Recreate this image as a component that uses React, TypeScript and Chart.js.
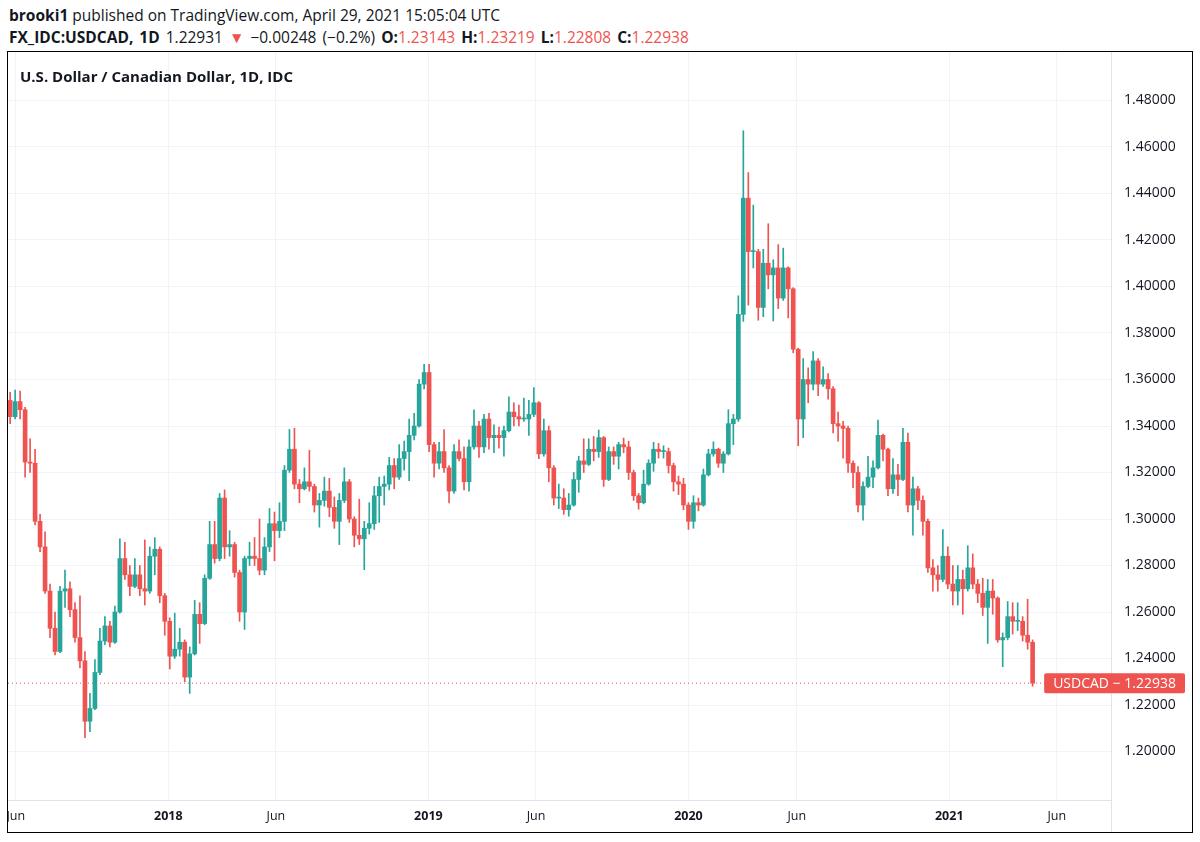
import React, { useEffect, useRef } from 'react';
import { Chart, registerables } from 'chart.js';

Chart.register(...registerables);

// ---- data (weekly OHLC) ----
const FIRST_WEEK = '2017-05-22';
const OPEN = [
  1.3510, 1.3440, 1.3505, 1.3470, 1.3245, 1.3240, 1.2990, 1.2880, 1.2690, 1.2530,
  1.2430, 1.2690, 1.2700, 1.2610, 1.2490, 1.2390, 1.2130, 1.2185, 1.2340, 1.2475,
  1.2540, 1.2470, 1.2600, 1.2830, 1.2760, 1.2710, 1.2760, 1.2700, 1.2690, 1.2840,
  1.2870, 1.2670, 1.2560, 1.2410, 1.2440, 1.2470, 1.2320, 1.2420, 1.2590, 1.2550,
  1.2745, 1.2890, 1.2830, 1.3090, 1.2880, 1.2890, 1.2770, 1.2600, 1.2830, 1.2840,
  1.2830, 1.2780, 1.2880, 1.2980, 1.2950, 1.2990, 1.3210, 1.3300, 1.3150, 1.3130,
  1.3160, 1.3140, 1.3060, 1.3080, 1.3120, 1.3050, 1.2990, 1.3080, 1.3160, 1.3000,
  1.2930, 1.2915, 1.2960, 1.2980, 1.3100, 1.3140, 1.3150, 1.3230, 1.3180, 1.3260,
  1.3290, 1.3360, 1.3400, 1.3580, 1.3630, 1.3320, 1.3240, 1.3290, 1.3220, 1.3120,
  1.3290, 1.3260, 1.3160, 1.3310, 1.3400, 1.3310, 1.3430, 1.3350, 1.3360, 1.3350,
  1.3380, 1.3460, 1.3440, 1.3430, 1.3430, 1.3450, 1.3500, 1.3280, 1.3380, 1.3220,
  1.3090, 1.3090, 1.3040, 1.3060, 1.3170, 1.3250, 1.3235, 1.3300, 1.3290, 1.3350,
  1.3170, 1.3290, 1.3270, 1.3320, 1.3310, 1.3200, 1.3100, 1.3070, 1.3150, 1.3240,
  1.3300, 1.3290, 1.3290, 1.3230, 1.3160, 1.3150, 1.3060, 1.2990, 1.3070, 1.3060,
  1.3190, 1.3280, 1.3300, 1.3240, 1.3280, 1.3410, 1.3430, 1.3880, 1.4380, 1.4150,
  1.4150, 1.3910, 1.4100, 1.4050, 1.4080, 1.3950, 1.4080, 1.3990, 1.3730, 1.3430,
  1.3600, 1.3580, 1.3680, 1.3580, 1.3600, 1.3560, 1.3410, 1.3400, 1.3390, 1.3240,
  1.3200, 1.3060, 1.3140, 1.3180, 1.3220, 1.3360, 1.3300, 1.3130, 1.3190, 1.3170,
  1.3330, 1.3060, 1.3130, 1.3080, 1.2990, 1.2790, 1.2760, 1.2740, 1.2840, 1.2720,
  1.2690, 1.2740, 1.2700, 1.2790, 1.2720, 1.2680, 1.2620, 1.2690, 1.2660, 1.2480,
  1.2490, 1.2580, 1.2560, 1.2560, 1.2500, 1.2470,
];
const HIGH = [
  1.3545, 1.3555, 1.3550, 1.3480, 1.3345, 1.3300, 1.3020, 1.2945, 1.2720, 1.2600,
  1.2710, 1.2780, 1.2730, 1.2640, 1.2670, 1.2430, 1.2250, 1.2395, 1.2530, 1.2580,
  1.2560, 1.2625, 1.2915, 1.2900, 1.2800, 1.2830, 1.2800, 1.2910, 1.2880, 1.2920,
  1.2880, 1.2680, 1.2575, 1.2595, 1.2530, 1.2480, 1.2450, 1.2650, 1.2640, 1.2760,
  1.2990, 1.2990, 1.3110, 1.3125, 1.2950, 1.2900, 1.2780, 1.2840, 1.2900, 1.2920,
  1.3000, 1.2920, 1.3045, 1.3030, 1.3070, 1.3230, 1.3385, 1.3390, 1.3170, 1.3220,
  1.3295, 1.3150, 1.3110, 1.3180, 1.3175, 1.3095, 1.3110, 1.3220, 1.3170, 1.3010,
  1.3085, 1.2990, 1.3070, 1.3140, 1.3180, 1.3185, 1.3265, 1.3260, 1.3320, 1.3335,
  1.3430, 1.3455, 1.3600, 1.3665, 1.3665, 1.3330, 1.3330, 1.3385, 1.3230, 1.3320,
  1.3340, 1.3310, 1.3340, 1.3470, 1.3420, 1.3450, 1.3455, 1.3405, 1.3395, 1.3400,
  1.3525, 1.3500, 1.3490, 1.3520, 1.3510, 1.3565, 1.3505, 1.3430, 1.3400, 1.3230,
  1.3150, 1.3130, 1.3110, 1.3200, 1.3270, 1.3345, 1.3345, 1.3355, 1.3383, 1.3355,
  1.3310, 1.3310, 1.3330, 1.3348, 1.3335, 1.3210, 1.3110, 1.3210, 1.3255, 1.3330,
  1.3325, 1.3315, 1.3305, 1.3240, 1.3185, 1.3175, 1.3070, 1.3100, 1.3090, 1.3215,
  1.3300, 1.3332, 1.3305, 1.3290, 1.3470, 1.3450, 1.3960, 1.4670, 1.4490, 1.4350,
  1.4160, 1.4160, 1.4270, 1.4115, 1.4180, 1.4165, 1.4085, 1.3995, 1.3735, 1.3690,
  1.3650, 1.3720, 1.3690, 1.3655, 1.3625, 1.3570, 1.3460, 1.3420, 1.3400, 1.3250,
  1.3225, 1.3160, 1.3270, 1.3250, 1.3425, 1.3365, 1.3305, 1.3260, 1.3235, 1.3390,
  1.3370, 1.3180, 1.3140, 1.3100, 1.3000, 1.2825, 1.2800, 1.2955, 1.2880, 1.2800,
  1.2800, 1.2780, 1.2885, 1.2850, 1.2740, 1.2745, 1.2740, 1.2740, 1.2665, 1.2510,
  1.2645, 1.2640, 1.2640, 1.2580, 1.2655, 1.2480,
];
const LOW = [
  1.3410, 1.3430, 1.3430, 1.3180, 1.3200, 1.2975, 1.2860, 1.2680, 1.2490, 1.2415,
  1.2425, 1.2620, 1.2580, 1.2470, 1.2360, 1.2060, 1.2085, 1.2180, 1.2330, 1.2460,
  1.2450, 1.2465, 1.2595, 1.2740, 1.2670, 1.2705, 1.2670, 1.2630, 1.2680, 1.2760,
  1.2640, 1.2500, 1.2355, 1.2400, 1.2410, 1.2300, 1.2250, 1.2415, 1.2465, 1.2545,
  1.2740, 1.2810, 1.2820, 1.2830, 1.2840, 1.2750, 1.2560, 1.2525, 1.2800, 1.2800,
  1.2760, 1.2760, 1.2860, 1.2820, 1.2920, 1.2950, 1.3200, 1.3130, 1.3070, 1.3125,
  1.3120, 1.3030, 1.2965, 1.3055, 1.3010, 1.2960, 1.2890, 1.3070, 1.2985, 1.2880,
  1.2890, 1.2782, 1.2935, 1.2955, 1.2985, 1.3060, 1.3125, 1.3130, 1.3170, 1.3210,
  1.3165, 1.3340, 1.3395, 1.3560, 1.3290, 1.3180, 1.3215, 1.3200, 1.3069, 1.3110,
  1.3250, 1.3125, 1.3120, 1.3300, 1.3265, 1.3285, 1.3300, 1.3285, 1.3305, 1.3270,
  1.3375, 1.3400, 1.3400, 1.3420, 1.3360, 1.3440, 1.3260, 1.3270, 1.3160, 1.3060,
  1.3045, 1.3020, 1.3012, 1.3055, 1.3115, 1.3200, 1.3230, 1.3250, 1.3265, 1.3140,
  1.3165, 1.3235, 1.3215, 1.3285, 1.3170, 1.3080, 1.3042, 1.3065, 1.3145, 1.3205,
  1.3262, 1.3262, 1.3198, 1.3120, 1.3105, 1.3040, 1.2955, 1.2960, 1.3035, 1.3055,
  1.3185, 1.3270, 1.3222, 1.3200, 1.3275, 1.3320, 1.3420, 1.3850, 1.3920, 1.4080,
  1.3855, 1.3870, 1.3990, 1.3852, 1.3905, 1.3940, 1.3865, 1.3715, 1.3315, 1.3350,
  1.3500, 1.3555, 1.3530, 1.3570, 1.3515, 1.3370, 1.3335, 1.3262, 1.3200, 1.3135,
  1.3030, 1.2995, 1.3135, 1.3135, 1.3215, 1.3250, 1.3100, 1.3110, 1.3100, 1.3165,
  1.3030, 1.2930, 1.3040, 1.2930, 1.2770, 1.2690, 1.2690, 1.2730, 1.2700, 1.2630,
  1.2630, 1.2590, 1.2690, 1.2700, 1.2640, 1.2585, 1.2465, 1.2590, 1.2470, 1.2365,
  1.2480, 1.2505, 1.2520, 1.2475, 1.2440, 1.2281,
];
const CLOSE = [
  1.3440, 1.3505, 1.3470, 1.3245, 1.3240, 1.2990, 1.2880, 1.2690, 1.2530, 1.2430,
  1.2690, 1.2700, 1.2610, 1.2490, 1.2390, 1.2130, 1.2185, 1.2340, 1.2475, 1.2540,
  1.2470, 1.2600, 1.2830, 1.2760, 1.2710, 1.2760, 1.2700, 1.2690, 1.2840, 1.2870,
  1.2670, 1.2560, 1.2410, 1.2440, 1.2470, 1.2320, 1.2420, 1.2590, 1.2550, 1.2745,
  1.2890, 1.2830, 1.3090, 1.2880, 1.2890, 1.2770, 1.2600, 1.2830, 1.2840, 1.2830,
  1.2780, 1.2880, 1.2980, 1.2950, 1.2990, 1.3210, 1.3300, 1.3150, 1.3130, 1.3160,
  1.3140, 1.3060, 1.3080, 1.3120, 1.3050, 1.2990, 1.3080, 1.3160, 1.3000, 1.2930,
  1.2915, 1.2960, 1.2980, 1.3100, 1.3140, 1.3150, 1.3230, 1.3180, 1.3260, 1.3290,
  1.3360, 1.3400, 1.3580, 1.3630, 1.3320, 1.3240, 1.3290, 1.3220, 1.3120, 1.3290,
  1.3260, 1.3160, 1.3310, 1.3400, 1.3310, 1.3430, 1.3350, 1.3360, 1.3350, 1.3380,
  1.3460, 1.3440, 1.3430, 1.3430, 1.3450, 1.3500, 1.3280, 1.3380, 1.3220, 1.3090,
  1.3090, 1.3040, 1.3060, 1.3170, 1.3250, 1.3235, 1.3300, 1.3290, 1.3350, 1.3170,
  1.3290, 1.3270, 1.3320, 1.3310, 1.3200, 1.3100, 1.3070, 1.3150, 1.3240, 1.3300,
  1.3290, 1.3290, 1.3230, 1.3160, 1.3150, 1.3060, 1.2990, 1.3070, 1.3060, 1.3190,
  1.3280, 1.3300, 1.3240, 1.3280, 1.3410, 1.3430, 1.3880, 1.4380, 1.4150, 1.4150,
  1.3910, 1.4100, 1.4050, 1.4080, 1.3950, 1.4080, 1.3990, 1.3730, 1.3430, 1.3600,
  1.3580, 1.3680, 1.3580, 1.3600, 1.3560, 1.3410, 1.3400, 1.3390, 1.3240, 1.3200,
  1.3060, 1.3140, 1.3180, 1.3220, 1.3360, 1.3300, 1.3130, 1.3190, 1.3170, 1.3330,
  1.3060, 1.3130, 1.3080, 1.2990, 1.2790, 1.2760, 1.2740, 1.2840, 1.2720, 1.2690,
  1.2740, 1.2700, 1.2790, 1.2720, 1.2680, 1.2620, 1.2690, 1.2660, 1.2480, 1.2490,
  1.2580, 1.2560, 1.2560, 1.2500, 1.2470, 1.22938,
];
const LAST_PRICE = 1.22938;
const Y_TICKS = [1.20, 1.22, 1.24, 1.26, 1.28, 1.30, 1.32, 1.34, 1.36, 1.38, 1.40, 1.42, 1.44, 1.46, 1.48];
const Y_MIN = 1.17914;
const Y_MAX = 1.50086;
const X_MIN_DATE = '2017-05-21';
const X_MAX_DATE = '2021-08-16';
const X_TICK_DATES = ['2017-06-01', '2018-01-01', '2018-06-01', '2019-01-01', '2019-06-01', '2020-01-01', '2020-06-01', '2021-01-01', '2021-06-01'];
const X_TICK_LABELS = ['Jun', '2018', 'Jun', '2019', 'Jun', '2020', 'Jun', '2021', 'Jun'];

// ---- styles ----
const UP = '#26a69a';
const DOWN = '#ef5350';
const GRID = '#f0f3fa';
const TEXT = '#131722';
const FONT = '"Open Sans", "Noto Sans", sans-serif';

const dayNum = (s: string) => Date.parse(s) / 864e5;

export default function App() {
  const canvasRef = useRef<HTMLCanvasElement | null>(null);

  useEffect(() => {
    const canvas = canvasRef.current;
    if (!canvas) return;
    const start = dayNum(FIRST_WEEK);
    const xs = OPEN.map((_, i) => start + 7 * i + 2);
    const colors = OPEN.map((o, i) => (CLOSE[i] >= o ? UP : DOWN));
    const xMin = dayNum(X_MIN_DATE);
    const xMax = dayNum(X_MAX_DATE);

    const overlay = {
      id: 'overlay',
      afterDraw(chart: any) {
        const { ctx, chartArea } = chart;
        const ys = chart.scales.y;
        ctx.save();
        // price-scale divider through the time axis area
        ctx.strokeStyle = '#e0e3eb';
        ctx.lineWidth = 1;
        ctx.beginPath();
        ctx.moveTo(Math.round(chartArea.right) + 0.5, chartArea.bottom);
        ctx.lineTo(Math.round(chartArea.right) + 0.5, chart.height);
        ctx.stroke();
        // last price label
        const y = ys.getPixelForValue(LAST_PRICE);
        ctx.font = `14px ${FONT}`;
        const text = `USDCAD \u2212 ${LAST_PRICE.toFixed(5)}`;
        const w = ctx.measureText(text).width + 18;
        const right = chart.width - 7;
        ctx.fillStyle = DOWN;
        ctx.beginPath();
        if ((ctx as any).roundRect) (ctx as any).roundRect(right - w, y - 10, w, 20, 2);
        else ctx.rect(right - w, y - 10, w, 20);
        ctx.fill();
        ctx.fillStyle = '#ffffff';
        ctx.textAlign = 'left';
        ctx.textBaseline = 'middle';
        ctx.fillText(text, right - w + 9, y + 0.5);
        ctx.restore();
      },
    };

    const chart = new Chart(canvas, {
      type: 'bar',
      data: {
        datasets: [
          {
            type: 'line',
            data: [
              { x: xMin, y: LAST_PRICE },
              { x: xMax, y: LAST_PRICE },
            ],
            borderColor: DOWN,
            borderWidth: 1,
            borderDash: [1, 3],
            pointRadius: 0,
            order: 3,
          } as any,
          {
            type: 'bar',
            data: xs.map((x, i) => ({ x, y: [LOW[i], HIGH[i]] })),
            backgroundColor: colors,
            barThickness: 1,
            grouped: false,
            order: 2,
          } as any,
          {
            type: 'bar',
            data: xs.map((x, i) => ({ x, y: [OPEN[i], CLOSE[i]] })),
            backgroundColor: colors,
            barThickness: 4,
            grouped: false,
            minBarLength: 1,
            order: 1,
          } as any,
        ],
      },
      options: {
        animation: false,
        responsive: false,
        maintainAspectRatio: false,
        events: [],
        layout: { padding: 0 },
        plugins: { legend: { display: false }, tooltip: { enabled: false }, title: { display: false } },
        scales: {
          x: {
            type: 'linear',
            min: xMin,
            max: xMax,
            offset: false,
            grid: { color: GRID, drawTicks: false, lineWidth: 1, offset: false },
            border: { display: true, color: '#e0e3eb' },
            ticks: {
              autoSkip: false,
              maxRotation: 0,
              minRotation: 0,
              padding: 9,
              color: TEXT,
              font: (c: any) => ({
                family: FONT,
                size: 12.5,
                weight: /^\d{4}$/.test(X_TICK_LABELS[c.index] || '') ? 'bold' : 'normal',
              }),
              callback: (_v: any, i: number) => X_TICK_LABELS[i],
            },
            afterBuildTicks: (s: any) => {
              s.ticks = X_TICK_DATES.map((d) => ({ value: dayNum(d) }));
            },
            afterFit: (s: any) => {
              s.height = 32;
              s.paddingLeft = 0;
              s.paddingRight = 0;
            },
          } as any,
          y: {
            type: 'linear',
            position: 'right',
            min: Y_MIN,
            max: Y_MAX,
            grid: { color: GRID, drawTicks: false, lineWidth: 1 },
            border: { display: true, color: '#e0e3eb' },
            ticks: {
              padding: 13,
              color: TEXT,
              font: { family: FONT, size: 14 },
              callback: (v: any) => Number(v).toFixed(5),
            },
            afterBuildTicks: (s: any) => {
              s.ticks = Y_TICKS.map((v) => ({ value: v }));
            },
            afterFit: (s: any) => {
              s.width = 81;
              s.paddingTop = 0;
              s.paddingBottom = 0;
            },
          } as any,
        },
      } as any,
      plugins: [overlay],
    });
    return () => chart.destroy();
  }, []);

  const red = { color: DOWN };
  return (
    <div
      style={{
        position: 'absolute',
        left: 0,
        top: 0,
        width: 1200,
        height: 842,
        background: '#fff',
        fontFamily: FONT,
        color: TEXT,
        overflow: 'hidden',
      }}
    >
      <div style={{ position: 'absolute', left: 9, top: 5, fontSize: 15.5, lineHeight: '20px', whiteSpace: 'nowrap' }}>
        <b>brooki1</b> published on TradingView.com, April 29, 2021 15:05:04 UTC
      </div>
      <div
        style={{
          position: 'absolute',
          left: 9,
          top: 27,
          fontSize: 15.5,
          lineHeight: '20px',
          whiteSpace: 'nowrap',
          wordSpacing: 2,
        }}
      >
        <b>FX_IDC:USDCAD, 1D</b> 1.22931<span style={red}> ▼ </span>−0.00248 (−0.2%) <b>O:</b>
        <span style={red}>1.23143</span> <b>H:</b>
        <span style={red}>1.23219</span> <b>L:</b>
        <span style={red}>1.22808</span> <b>C:</b>
        <span style={red}>1.22938</span>
      </div>
      <div
        style={{
          position: 'absolute',
          left: 7,
          top: 51,
          width: 1184,
          height: 780,
          border: '1px solid #000',
        }}
      >
        <canvas ref={canvasRef} width={1184} height={780} style={{ display: 'block', width: 1184, height: 780 }} />
        <div
          style={{
            position: 'absolute',
            left: 12,
            top: 15,
            fontSize: 15,
            lineHeight: '18px',
            fontWeight: 'bold',
            whiteSpace: 'nowrap',
          }}
        >
          U.S. Dollar / Canadian Dollar, 1D, IDC
        </div>
      </div>
    </div>
  );
}
